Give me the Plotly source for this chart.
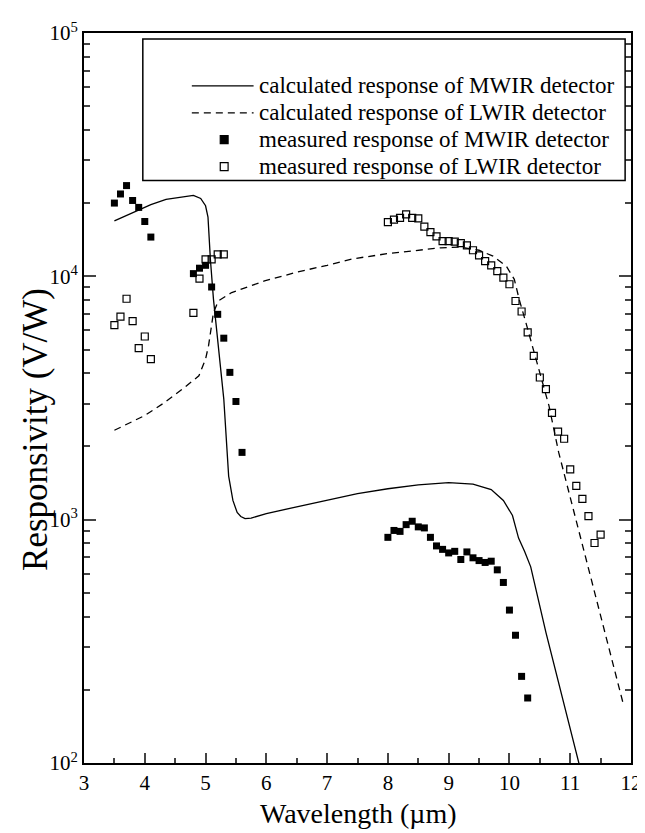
import plotly.graph_objects as go

# ---------------- data ----------------
calc_mwir_x = [3.5, 3.8, 4.1, 4.35, 4.6, 4.8, 4.92, 5.0, 5.04, 5.08, 5.13, 5.21, 5.30, 5.38,
               5.45, 5.52, 5.58, 5.65, 5.75, 6.0, 6.5, 7.0, 7.5, 8.0, 8.5, 9.0, 9.4, 9.7,
               9.9, 10.05, 10.15, 10.25, 10.35, 10.6, 10.9, 11.16]
calc_mwir_y = [16900, 18300, 19700, 20700, 21100, 21500, 20900, 19500, 17500, 11700, 8060,
               5180, 3130, 1510, 1200, 1070, 1030, 1010, 1015, 1060, 1130, 1200, 1280, 1340,
               1390, 1420, 1400, 1330, 1200, 1040, 840, 740, 640, 344, 174, 96]

calc_lwir_x = [3.5, 4.0, 4.3, 4.62, 4.89, 5.0, 5.05, 5.08, 5.13, 5.21, 5.43, 5.97, 6.5, 7.0,
               7.42, 8.0, 8.5, 8.87, 9.19, 9.5, 9.73, 9.95, 10.08, 10.16, 10.27, 10.40,
               10.51, 10.65, 10.81, 11.0, 11.4, 11.87]
calc_lwir_y = [2330, 2680, 3000, 3440, 3900, 4570, 5200, 5880, 7100, 7920, 8580, 9570, 10400,
               11100, 11800, 12400, 12800, 13100, 13200, 12800, 12100, 11000, 9720, 8050,
               6460, 4940, 3900, 2940, 1890, 1236, 505, 176]

meas_mwir_x = [3.5, 3.6, 3.7, 3.8, 3.9, 4.0, 4.1,
               4.8, 4.9, 5.0, 5.1, 5.2, 5.3, 5.4, 5.5, 5.6,
               8.0, 8.1, 8.2, 8.3, 8.4, 8.5, 8.6, 8.7, 8.8, 8.9, 9.0, 9.1, 9.2, 9.3, 9.4,
               9.5, 9.6, 9.7, 9.8, 9.9, 10.0, 10.1, 10.2, 10.3]
meas_mwir_y = [20000, 21800, 23600, 20500, 19200, 16800, 14500,
               10260, 10800, 11100, 9040, 6980, 5570, 4030, 3060, 1890,
               846, 903, 895, 954, 985, 934, 925, 846, 780, 755, 730, 741, 686, 737, 697,
               679, 667, 675, 622, 552, 425, 335, 227, 185]

meas_lwir_x = [3.5, 3.6, 3.7, 3.8, 3.9, 4.0, 4.1,
               4.8, 4.9, 5.0, 5.1, 5.2, 5.3,
               8.0, 8.1, 8.2, 8.3, 8.4, 8.5, 8.6, 8.7, 8.8, 8.9, 9.0, 9.1, 9.2, 9.3, 9.4,
               9.5, 9.6, 9.7, 9.8, 9.9, 10.0, 10.1, 10.2, 10.3, 10.4, 10.5, 10.6, 10.7,
               10.8, 10.9, 11.0, 11.1, 11.2, 11.3, 11.4, 11.5]
meas_lwir_y = [6300, 6830, 8090, 6540, 5070, 5660, 4570,
               7070, 9780, 11750, 11750, 12300, 12300,
               16700, 17100, 17400, 17960, 17400, 17300, 16000, 15200, 14600, 13960, 13960,
               13900, 13700, 13400, 12800, 12200, 11550, 11100, 10500, 9880, 9280, 7920,
               7170, 5880, 4710, 3840, 3440, 2745, 2300, 2150, 1608, 1377, 1218, 1035, 802, 868]

series_names = ["calculated response of MWIR detector",
                "calculated response of LWIR detector",
                "measured response of MWIR detector",
                "measured response of LWIR detector"]

x_ticks = [3, 4, 5, 6, 7, 8, 9, 10, 11, 12]
y_ticks = [100, 1000, 10000, 100000]
y_tick_text = ["10<sup>2</sup>", "10<sup>3</sup>", "10<sup>4</sup>", "10<sup>5</sup>"]
y_minor = [m * 10 ** e for e in (2, 3, 4) for m in range(2, 10)]

FONT = "Liberation Serif, Times New Roman, serif"

fig = go.Figure()
fig.add_trace(go.Scatter(x=calc_mwir_x, y=calc_mwir_y, mode="lines", name=series_names[0],
                         line=dict(color="black", width=1.3), showlegend=False))
fig.add_trace(go.Scatter(x=calc_lwir_x, y=calc_lwir_y, mode="lines", name=series_names[1],
                         line=dict(color="black", width=1.3, dash="7px,5px"), showlegend=False))
fig.add_trace(go.Scatter(x=meas_mwir_x, y=meas_mwir_y, mode="markers", name=series_names[2],
                         marker=dict(symbol="square", size=7, color="black"), showlegend=False))
fig.add_trace(go.Scatter(x=meas_lwir_x, y=meas_lwir_y, mode="markers", name=series_names[3],
                         marker=dict(symbol="square-open", size=7, color="black",
                                     line=dict(width=1.2)), showlegend=False))

# ---------------- manual legend (paper coordinates) ----------------
L, R, B, T = 76, 634, 755, 23  # plot area in pixels
def px(X):
    return (X - L) / (R - L)
def py(Y):
    return (B - Y) / (B - T)

fig.add_shape(type="rect", xref="paper", yref="paper",
              x0=px(136), x1=px(628), y0=py(171), y1=py(29),
              line=dict(color="black", width=1.5), fillcolor="white")
row_y = [76, 103, 130, 157]
text_x = 252
for i, name in enumerate(series_names):
    yy = py(row_y[i])
    if i == 0:
        fig.add_shape(type="line", xref="paper", yref="paper", x0=px(186), x1=px(249),
                      y0=yy, y1=yy, line=dict(color="black", width=1.3))
    elif i == 1:
        fig.add_shape(type="line", xref="paper", yref="paper", x0=px(186), x1=px(249),
                      y0=yy, y1=yy, line=dict(color="black", width=1.3, dash="7px,5px"))
    else:
        fig.add_shape(type="rect", xref="paper", yref="paper",
                      x0=px(215), x1=px(223), y0=py(row_y[i] + 4), y1=py(row_y[i] - 4),
                      line=dict(color="black", width=1.2),
                      fillcolor="black" if i == 2 else "white")
    fig.add_annotation(xref="paper", yref="paper", x=px(text_x), y=yy, text=name,
                       showarrow=False, xanchor="left", yanchor="middle",
                       font=dict(family=FONT, size=23, color="black"))

# axis titles
fig.add_annotation(xref="paper", yref="paper", x=px(356), y=py(806),
                   text="Wavelength (µm)", showarrow=False, xanchor="center",
                   yanchor="middle", font=dict(family=FONT, size=28, color="black"))
fig.add_annotation(xref="paper", yref="paper", x=px(27), y=py(420),
                   text="Responsivity (V/W)", showarrow=False, textangle=-90,
                   xanchor="center", yanchor="middle",
                   font=dict(family=FONT, size=35, color="black"))

fig.update_layout(
    width=645, height=833,
    margin=dict(l=L, r=645 - R, t=T, b=833 - B),
    paper_bgcolor="white", plot_bgcolor="white",
    font=dict(family=FONT, color="black"),
    showlegend=False,
)
fig.update_xaxes(range=[3, 12], tickvals=x_ticks, ticks="inside", ticklen=10, tickwidth=1.5,
                 tickfont=dict(size=21), showline=True, linewidth=2, linecolor="black",
                 mirror=True, showgrid=False, zeroline=False,
                 minor=dict(dtick=0.5, ticks="inside", ticklen=5, tickwidth=1.5))
fig.update_yaxes(type="log", range=[2, 5], tickvals=y_ticks, ticktext=y_tick_text,
                 ticks="inside", ticklen=12, tickwidth=1.5, tickfont=dict(size=21),
                 showline=True, linewidth=2, linecolor="black", mirror="allticks",
                 showgrid=False, zeroline=False,
                 minor=dict(tickvals=y_minor, ticks="inside", ticklen=6, tickwidth=1.5))

fig.write_html("out.html")
